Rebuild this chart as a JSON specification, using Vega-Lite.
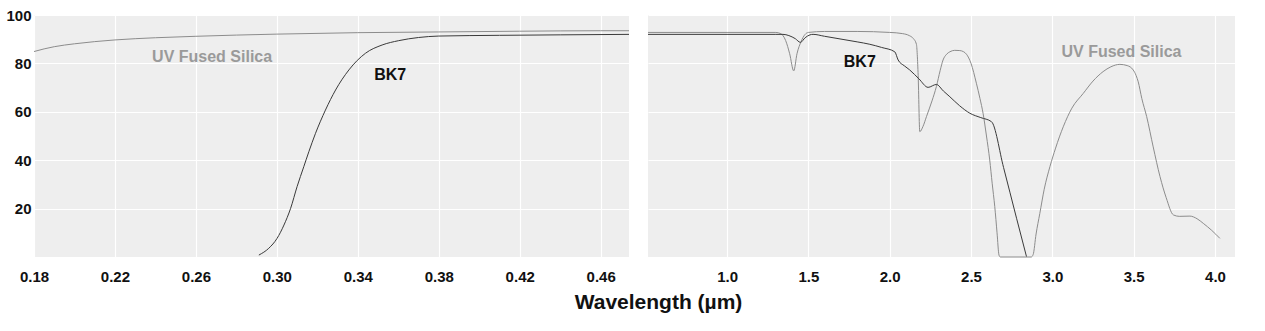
{
  "$schema": "https://vega.github.io/schema/vega-lite/v6.json",
  "padding": {"left": 5, "top": 8, "right": 5, "bottom": 5},
  "background": "white",
  "title": {"text": "Wavelength (µm)", "orient": "bottom", "anchor": "middle", "font": "Liberation Sans", "fontSize": 21, "fontWeight": "bold", "color": "#111111", "offset": 8, "dx": 38},
  "config": {
    "view": {"stroke": null, "fill": "#eeeeee"},
    "axis": {"domain": false, "ticks": false, "gridColor": "#ffffff", "gridWidth": 1.2, "labelFont": "Liberation Sans", "labelFontWeight": "bold", "labelFontSize": 15, "labelColor": "#111111", "labelFlush": false, "labelOverlap": false, "title": null},
    "concat": {"spacing": 15}
  },
  "datasets": {
    "left": [
      {"s": "UV Fused Silica", "wl": 0.18, "t": 84.9},
      {"s": "UV Fused Silica", "wl": 0.185, "t": 86.0},
      {"s": "UV Fused Silica", "wl": 0.19, "t": 86.9},
      {"s": "UV Fused Silica", "wl": 0.20, "t": 88.1},
      {"s": "UV Fused Silica", "wl": 0.21, "t": 89.0},
      {"s": "UV Fused Silica", "wl": 0.22, "t": 89.7},
      {"s": "UV Fused Silica", "wl": 0.24, "t": 90.6},
      {"s": "UV Fused Silica", "wl": 0.26, "t": 91.2},
      {"s": "UV Fused Silica", "wl": 0.28, "t": 91.7},
      {"s": "UV Fused Silica", "wl": 0.30, "t": 92.1},
      {"s": "UV Fused Silica", "wl": 0.34, "t": 92.7},
      {"s": "UV Fused Silica", "wl": 0.38, "t": 93.0},
      {"s": "UV Fused Silica", "wl": 0.42, "t": 93.3},
      {"s": "UV Fused Silica", "wl": 0.46, "t": 93.5},
      {"s": "UV Fused Silica", "wl": 0.474, "t": 93.5},
      {"s": "BK7", "wl": 0.2911, "t": 0.8},
      {"s": "BK7", "wl": 0.2960, "t": 3.6},
      {"s": "BK7", "wl": 0.3001, "t": 7.7},
      {"s": "BK7", "wl": 0.3035, "t": 13.2},
      {"s": "BK7", "wl": 0.3068, "t": 20.1},
      {"s": "BK7", "wl": 0.3100, "t": 29.1},
      {"s": "BK7", "wl": 0.3133, "t": 37.3},
      {"s": "BK7", "wl": 0.3158, "t": 43.5},
      {"s": "BK7", "wl": 0.3191, "t": 51.1},
      {"s": "BK7", "wl": 0.3240, "t": 60.7},
      {"s": "BK7", "wl": 0.3290, "t": 69.0},
      {"s": "BK7", "wl": 0.3356, "t": 77.3},
      {"s": "BK7", "wl": 0.3438, "t": 84.2},
      {"s": "BK7", "wl": 0.3520, "t": 87.6},
      {"s": "BK7", "wl": 0.3602, "t": 89.4},
      {"s": "BK7", "wl": 0.370, "t": 90.7},
      {"s": "BK7", "wl": 0.38, "t": 91.3},
      {"s": "BK7", "wl": 0.41, "t": 91.6},
      {"s": "BK7", "wl": 0.44, "t": 91.8},
      {"s": "BK7", "wl": 0.474, "t": 92.0}
    ],
    "right": [
      {"s": "UV Fused Silica", "wl": 0.514, "t": 92.8},
      {"s": "UV Fused Silica", "wl": 1.0, "t": 92.8},
      {"s": "UV Fused Silica", "wl": 1.30, "t": 92.8},
      {"s": "UV Fused Silica", "wl": 1.33, "t": 92.3},
      {"s": "UV Fused Silica", "wl": 1.36, "t": 89.5},
      {"s": "UV Fused Silica", "wl": 1.385, "t": 84.0},
      {"s": "UV Fused Silica", "wl": 1.41, "t": 76.9},
      {"s": "UV Fused Silica", "wl": 1.43, "t": 84.0},
      {"s": "UV Fused Silica", "wl": 1.455, "t": 89.0},
      {"s": "UV Fused Silica", "wl": 1.48, "t": 92.0},
      {"s": "UV Fused Silica", "wl": 1.50, "t": 92.8},
      {"s": "UV Fused Silica", "wl": 1.6, "t": 93.2},
      {"s": "UV Fused Silica", "wl": 1.8, "t": 93.2},
      {"s": "UV Fused Silica", "wl": 2.0, "t": 92.8},
      {"s": "UV Fused Silica", "wl": 2.08, "t": 92.3},
      {"s": "UV Fused Silica", "wl": 2.12, "t": 91.5},
      {"s": "UV Fused Silica", "wl": 2.145, "t": 90.3},
      {"s": "UV Fused Silica", "wl": 2.164, "t": 88.0},
      {"s": "UV Fused Silica", "wl": 2.175, "t": 75.0},
      {"s": "UV Fused Silica", "wl": 2.185, "t": 51.8},
      {"s": "UV Fused Silica", "wl": 2.205, "t": 54.0},
      {"s": "UV Fused Silica", "wl": 2.226, "t": 58.0},
      {"s": "UV Fused Silica", "wl": 2.26, "t": 64.5},
      {"s": "UV Fused Silica", "wl": 2.287, "t": 70.4},
      {"s": "UV Fused Silica", "wl": 2.31, "t": 77.0},
      {"s": "UV Fused Silica", "wl": 2.328, "t": 81.4},
      {"s": "UV Fused Silica", "wl": 2.35, "t": 83.8},
      {"s": "UV Fused Silica", "wl": 2.37, "t": 84.8},
      {"s": "UV Fused Silica", "wl": 2.40, "t": 85.4},
      {"s": "UV Fused Silica", "wl": 2.431, "t": 85.3},
      {"s": "UV Fused Silica", "wl": 2.455, "t": 84.8},
      {"s": "UV Fused Silica", "wl": 2.472, "t": 83.8},
      {"s": "UV Fused Silica", "wl": 2.50, "t": 80.0},
      {"s": "UV Fused Silica", "wl": 2.533, "t": 71.8},
      {"s": "UV Fused Silica", "wl": 2.555, "t": 65.5},
      {"s": "UV Fused Silica", "wl": 2.574, "t": 59.4},
      {"s": "UV Fused Silica", "wl": 2.595, "t": 50.0},
      {"s": "UV Fused Silica", "wl": 2.615, "t": 40.1},
      {"s": "UV Fused Silica", "wl": 2.63, "t": 30.5},
      {"s": "UV Fused Silica", "wl": 2.646, "t": 20.8},
      {"s": "UV Fused Silica", "wl": 2.66, "t": 10.0},
      {"s": "UV Fused Silica", "wl": 2.672, "t": 0.8},
      {"s": "UV Fused Silica", "wl": 2.68, "t": 0.0},
      {"s": "UV Fused Silica", "wl": 2.87, "t": 0.0},
      {"s": "UV Fused Silica", "wl": 2.882, "t": 1.0},
      {"s": "UV Fused Silica", "wl": 2.90, "t": 9.5},
      {"s": "UV Fused Silica", "wl": 2.923, "t": 18.0},
      {"s": "UV Fused Silica", "wl": 2.95, "t": 28.0},
      {"s": "UV Fused Silica", "wl": 2.985, "t": 37.3},
      {"s": "UV Fused Silica", "wl": 3.02, "t": 45.0},
      {"s": "UV Fused Silica", "wl": 3.067, "t": 53.8},
      {"s": "UV Fused Silica", "wl": 3.12, "t": 61.5},
      {"s": "UV Fused Silica", "wl": 3.19, "t": 67.6},
      {"s": "UV Fused Silica", "wl": 3.25, "t": 72.7},
      {"s": "UV Fused Silica", "wl": 3.312, "t": 76.6},
      {"s": "UV Fused Silica", "wl": 3.36, "t": 78.6},
      {"s": "UV Fused Silica", "wl": 3.415, "t": 79.6},
      {"s": "UV Fused Silica", "wl": 3.46, "t": 79.1},
      {"s": "UV Fused Silica", "wl": 3.497, "t": 77.3},
      {"s": "UV Fused Silica", "wl": 3.515, "t": 75.0},
      {"s": "UV Fused Silica", "wl": 3.528, "t": 72.4},
      {"s": "UV Fused Silica", "wl": 3.55, "t": 65.5},
      {"s": "UV Fused Silica", "wl": 3.58, "t": 58.0},
      {"s": "UV Fused Silica", "wl": 3.62, "t": 45.5},
      {"s": "UV Fused Silica", "wl": 3.662, "t": 33.2},
      {"s": "UV Fused Silica", "wl": 3.70, "t": 24.5},
      {"s": "UV Fused Silica", "wl": 3.744, "t": 17.4},
      {"s": "UV Fused Silica", "wl": 3.78, "t": 16.8},
      {"s": "UV Fused Silica", "wl": 3.846, "t": 16.9},
      {"s": "UV Fused Silica", "wl": 3.89, "t": 15.8},
      {"s": "UV Fused Silica", "wl": 3.928, "t": 13.9},
      {"s": "UV Fused Silica", "wl": 3.98, "t": 11.0},
      {"s": "UV Fused Silica", "wl": 4.03, "t": 7.7},
      {"s": "BK7", "wl": 0.514, "t": 92.0},
      {"s": "BK7", "wl": 1.0, "t": 92.0},
      {"s": "BK7", "wl": 1.30, "t": 92.0},
      {"s": "BK7", "wl": 1.344, "t": 92.0},
      {"s": "BK7", "wl": 1.38, "t": 91.5},
      {"s": "BK7", "wl": 1.42, "t": 90.2},
      {"s": "BK7", "wl": 1.451, "t": 88.7},
      {"s": "BK7", "wl": 1.48, "t": 90.6},
      {"s": "BK7", "wl": 1.51, "t": 91.8},
      {"s": "BK7", "wl": 1.529, "t": 92.0},
      {"s": "BK7", "wl": 1.6, "t": 91.2},
      {"s": "BK7", "wl": 1.713, "t": 89.9},
      {"s": "BK7", "wl": 1.8, "t": 88.9},
      {"s": "BK7", "wl": 1.878, "t": 87.9},
      {"s": "BK7", "wl": 1.95, "t": 86.6},
      {"s": "BK7", "wl": 2.031, "t": 84.8},
      {"s": "BK7", "wl": 2.052, "t": 81.4},
      {"s": "BK7", "wl": 2.09, "t": 79.0},
      {"s": "BK7", "wl": 2.123, "t": 77.3},
      {"s": "BK7", "wl": 2.18, "t": 73.6},
      {"s": "BK7", "wl": 2.236, "t": 70.1},
      {"s": "BK7", "wl": 2.287, "t": 71.3},
      {"s": "BK7", "wl": 2.33, "t": 68.6},
      {"s": "BK7", "wl": 2.37, "t": 66.2},
      {"s": "BK7", "wl": 2.43, "t": 62.5},
      {"s": "BK7", "wl": 2.493, "t": 59.4},
      {"s": "BK7", "wl": 2.56, "t": 57.6},
      {"s": "BK7", "wl": 2.626, "t": 55.9},
      {"s": "BK7", "wl": 2.70, "t": 37.0},
      {"s": "BK7", "wl": 2.78, "t": 16.0},
      {"s": "BK7", "wl": 2.841, "t": 0.2}
    ],
    "leftLabels": [
      {"s": "UV Fused Silica", "wl": 0.268, "t": 82.6},
      {"s": "BK7", "wl": 0.356, "t": 75.2}
    ],
    "rightLabels": [
      {"s": "UV Fused Silica", "wl": 3.425, "t": 84.8},
      {"s": "BK7", "wl": 1.816, "t": 80.7}
    ]
  },
  "hconcat": [
    {
      "width": 595,
      "height": 242,
      "layer": [
        {
          "data": {"name": "left"},
          "mark": {"type": "line", "strokeWidth": 1, "interpolate": "monotone"},
          "encoding": {
            "x": {"field": "wl", "type": "quantitative", "scale": {"domain": [0.18, 0.474], "nice": false, "zero": false}, "axis": {"values": [0.18, 0.22, 0.26, 0.30, 0.34, 0.38, 0.42, 0.46], "format": ".2f", "labelPadding": 12}},
            "y": {"field": "t", "type": "quantitative", "scale": {"domain": [0, 100], "nice": false}, "axis": {"values": [20, 40, 60, 80, 100], "labelPadding": 3}},
            "detail": {"field": "s"},
            "color": {"field": "s", "type": "nominal", "scale": {"domain": ["UV Fused Silica", "BK7"], "range": ["#8c8c8c", "#3a3a3a"]}, "legend": null}
          }
        },
        {
          "data": {"name": "leftLabels"},
          "mark": {"type": "text", "font": "Liberation Sans", "fontWeight": "bold", "fontSize": 16, "align": "center", "baseline": "middle"},
          "encoding": {
            "x": {"field": "wl", "type": "quantitative"},
            "y": {"field": "t", "type": "quantitative"},
            "text": {"field": "s"},
            "color": {"field": "s", "type": "nominal", "scale": {"domain": ["UV Fused Silica", "BK7"], "range": ["#9a9a9a", "#111111"]}, "legend": null}
          }
        }
      ],
      "resolve": {"scale": {"color": "independent"}}
    },
    {
      "width": 587,
      "height": 242,
      "layer": [
        {
          "data": {"name": "right"},
          "mark": {"type": "line", "strokeWidth": 1, "interpolate": "monotone"},
          "encoding": {
            "x": {"field": "wl", "type": "quantitative", "scale": {"domain": [0.514, 4.123], "nice": false, "zero": false}, "axis": {"values": [1.0, 1.5, 2.0, 2.5, 3.0, 3.5, 4.0], "format": ".1f", "labelPadding": 12}},
            "y": {"field": "t", "type": "quantitative", "scale": {"domain": [0, 100], "nice": false}, "axis": {"values": [20, 40, 60, 80, 100], "labels": false}},
            "detail": {"field": "s"},
            "color": {"field": "s", "type": "nominal", "scale": {"domain": ["UV Fused Silica", "BK7"], "range": ["#8c8c8c", "#3a3a3a"]}, "legend": null}
          }
        },
        {
          "data": {"name": "rightLabels"},
          "mark": {"type": "text", "font": "Liberation Sans", "fontWeight": "bold", "fontSize": 16, "align": "center", "baseline": "middle"},
          "encoding": {
            "x": {"field": "wl", "type": "quantitative"},
            "y": {"field": "t", "type": "quantitative"},
            "text": {"field": "s"},
            "color": {"field": "s", "type": "nominal", "scale": {"domain": ["UV Fused Silica", "BK7"], "range": ["#9a9a9a", "#111111"]}, "legend": null}
          }
        }
      ],
      "resolve": {"scale": {"color": "independent"}}
    }
  ]
}
